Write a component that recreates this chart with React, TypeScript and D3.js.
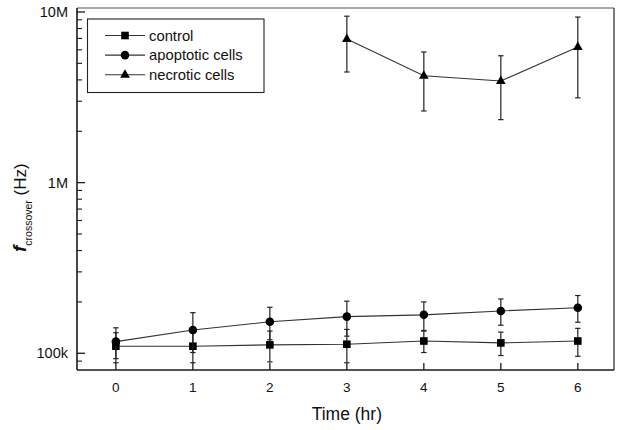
import React from "react";
import * as d3 from "d3";

const times = [0, 1, 2, 3, 4, 5, 6];
const controlVals = [110e3, 110e3, 112e3, 113e3, 118e3, 115e3, 118e3];
const controlErr = [22e3, 22e3, 23e3, 25e3, 17e3, 18e3, 22e3];
const apoptoticVals = [117e3, 137e3, 153e3, 164e3, 168e3, 177e3, 185e3];
const apoptoticErr = [24e3, 36e3, 33e3, 38e3, 32e3, 31e3, 33e3];
const necroticTimes = [3, 4, 5, 6];
const necroticVals = [6.95e6, 4.23e6, 3.94e6, 6.24e6];
const necroticErr = [2.5e6, 1.6e6, 1.6e6, 3.1e6];
const xTicks = [0, 1, 2, 3, 4, 5, 6];
const yMajor = [1e5, 1e6, 1e7];
const yMajorLabels = ["100k", "1M", "10M"];
const legendLabels = ["control", "apoptotic cells", "necrotic cells"];

const W = 624, H = 430;
const L = 77, R = 614, T = 8, B = 370;
const FONT = "'Liberation Sans', Arial, Helvetica, sans-serif";
const INK = "#1a1a1a";

export default function App() {
  const x = d3.scaleLinear().domain([-0.505, 6.47]).range([L, R]);
  const y = d3.scaleLog().domain([Math.pow(10, 4.902), Math.pow(10, 7.0234)]).range([B, T]);

  const minor: number[] = [];
  [1e4, 1e5, 1e6].forEach((dec) => {
    for (let k = 2; k <= 9; k++) {
      const v = dec * k;
      const py = y(v);
      if (py > T + 0.5 && py < B - 0.5) minor.push(v);
    }
  });

  const line = d3.line<[number, number]>().x((d) => x(d[0])).y((d) => y(d[1]));

  const series = [
    { t: times, v: controlVals, e: controlErr, m: "square" },
    { t: times, v: apoptoticVals, e: apoptoticErr, m: "circle" },
    { t: necroticTimes, v: necroticVals, e: necroticErr, m: "triangle" },
  ];

  const marker = (m: string, cx: number, cy: number, key?: string) => {
    if (m === "square") return <rect key={key} x={cx - 3.8} y={cy - 3.8} width={7.6} height={7.6} fill="#000" />;
    if (m === "circle") return <circle key={key} cx={cx} cy={cy} r={4.3} fill="#000" />;
    return <path key={key} d={`M${cx},${cy - 5.5}L${cx + 4.8},${cy + 3}L${cx - 4.8},${cy + 3}Z`} fill="#000" />;
  };

  return (
    <svg width={W} height={H} style={{ position: "absolute", left: 0, top: 0, background: "#fff" }} fontFamily={FONT}>
      <rect x={0} y={0} width={W} height={H} fill="#fff" />
      {/* frame */}
      <line x1={L} y1={T} x2={R} y2={T} stroke="#555" strokeWidth={1.2} />
      <line x1={R} y1={T} x2={R} y2={B} stroke="#333" strokeWidth={1.3} />
      <line x1={L} y1={T} x2={L} y2={B} stroke={INK} strokeWidth={1.6} />
      <line x1={L} y1={B} x2={R} y2={B} stroke={INK} strokeWidth={1.6} />

      {/* y ticks */}
      {yMajor.map((v, i) => (
        <g key={"ym" + i}>
          <line x1={L} x2={L + 8} y1={y(v)} y2={y(v)} stroke={INK} strokeWidth={1.3} />
          <text x={68} y={y(v)} dy="0.36em" textAnchor="end" fontSize={14.5} fill="#111">
            {yMajorLabels[i]}
          </text>
        </g>
      ))}
      {minor.map((v, i) => (
        <line key={"yn" + i} x1={L} x2={L + 5} y1={y(v)} y2={y(v)} stroke={INK} strokeWidth={1.1} />
      ))}

      {/* x ticks */}
      {xTicks.map((t) => (
        <g key={"xt" + t}>
          <line x1={x(t)} x2={x(t)} y1={B} y2={B - 7} stroke={INK} strokeWidth={1.3} />
          <text x={x(t)} y={392} textAnchor="middle" fontSize={13.5} fill="#111">
            {t}
          </text>
        </g>
      ))}

      {/* axis titles */}
      <text x={x(3)} y={420} textAnchor="middle" fontSize={17.5} fill="#111">
        Time (hr)
      </text>
      <text transform="translate(26,252) rotate(-90)" fontSize={17} fill="#111">
        <tspan fontStyle="italic" fontWeight="bold" fontSize={19}>f</tspan>
        <tspan fontSize={10.5} dy={6}>crossover</tspan>
        <tspan dy={-6}> (Hz)</tspan>
      </text>

      {/* series */}
      {series.map((s, si) => {
        const pts: [number, number][] = s.t.map((t, i) => [t, s.v[i]]);
        return (
          <g key={"s" + si}>
            <path d={line(pts) || ""} fill="none" stroke="#333" strokeWidth={1.1} />
            {pts.map((p, i) => {
              const cx = x(p[0]);
              const yt = y(p[1] + s.e[i]);
              const yb = y(p[1] - s.e[i]);
              return (
                <g key={"e" + i}>
                  <line x1={cx} x2={cx} y1={yt} y2={yb} stroke="#222" strokeWidth={1.2} />
                  <line x1={cx - 2.7} x2={cx + 2.7} y1={yt} y2={yt} stroke="#222" strokeWidth={1.2} />
                  <line x1={cx - 2.7} x2={cx + 2.7} y1={yb} y2={yb} stroke="#222" strokeWidth={1.2} />
                </g>
              );
            })}
            {pts.map((p, i) => marker(s.m, x(p[0]), y(p[1]), "m" + i))}
          </g>
        );
      })}

      {/* legend */}
      <rect x={87.5} y={19} width={176.5} height={73.5} fill="#fff" stroke="#222" strokeWidth={1.1} />
      {legendLabels.map((lab, i) => {
        const ly = 35.5 + i * 19.6;
        return (
          <g key={"lg" + i}>
            <line x1={105} x2={145} y1={ly} y2={ly} stroke="#333" strokeWidth={1.1} />
            {marker(series[i].m, 125, ly)}
            <text x={149} y={ly} dy="0.36em" fontSize={14.8} fill="#111">
              {lab}
            </text>
          </g>
        );
      })}
    </svg>
  );
}
